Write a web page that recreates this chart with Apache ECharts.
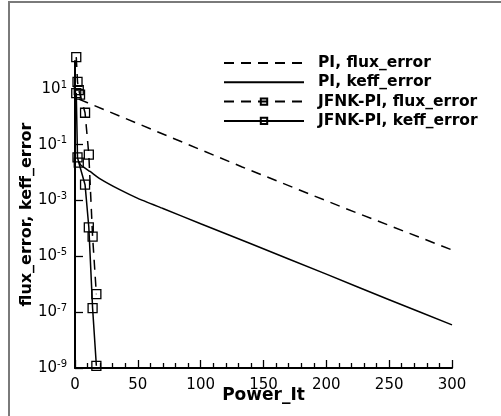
<!DOCTYPE html>
<html>
<head>
<meta charset="utf-8">
<script src="https://cdn.jsdelivr.net/npm/echarts@6/dist/echarts.min.js"></script>
<style>html,body{margin:0;padding:0;background:#fff;}#c{width:501px;height:416px;}</style>
</head>
<body>
<div id="c"></div>
<script>
// Data
const seriesNames = ['PI, flux_error', 'PI, keff_error', 'JFNK-PI, flux_error', 'JFNK-PI, keff_error'];
const piFluxIt = [3, 10, 133, 211, 300];
const piFluxErr = [4.3, 3.2, 1.6e-2, 6.2e-4, 1.7e-5];
const piKeffIt = [3, 5, 12, 20, 36, 50, 70, 100, 139, 200, 250, 300];
const piKeffErr = [2.5e-2, 1.8e-2, 1.1e-2, 6.0e-3, 2.4e-3, 1.2e-3, 5.2e-4, 1.48e-4, 2.95e-5, 2.3e-6, 2.8e-7, 3.5e-8];
const jfnkFluxIt = [1, 2, 3, 4, 8, 11, 14, 17];
const jfnkFluxErr = [138, 18, 9.1, 6.2, 1.4, 4.4e-2, 5.1e-5, 4.4e-7];
const jfnkKeffIt = [1, 2, 3, 8, 11, 14, 17];
const jfnkKeffErr = [7.1, 3.5e-2, 2.3e-2, 3.7e-3, 1.1e-4, 1.4e-7, 1.2e-9];
const xTicks = [0, 50, 100, 150, 200, 250, 300];

function pairs(xs, ys) { return xs.map((x, i) => [x, ys[i]]); }

const chart = echarts.init(document.getElementById('c'));
const dash = [10, 7];
const sym = {
  symbol: 'rect', symbolSize: 9,
  itemStyle: { color: 'rgba(255,255,255,0)', borderColor: '#000', borderWidth: 1.3 }
};
chart.setOption({
  animation: false,
  backgroundColor: '#fff',
  graphic: [{
    type: 'rect', silent: true,
    shape: { x: 9, y: 2, width: 700, height: 700 },
    style: { fill: 'none', stroke: '#7a7a7a', lineWidth: 2 }
  }],
  grid: { left: 75, right: 49, top: 61, bottom: 48 },
  legend: {
    orient: 'vertical', left: 223, top: 55, padding: 0,
    itemWidth: 80, itemHeight: 8, itemGap: 3.3,
    textStyle: { fontFamily: 'DejaVu Sans', fontWeight: 'bold', fontSize: 15.5, color: '#000', padding: [0, 0, 0, 9] },
    data: [
      { name: seriesNames[0], itemStyle: { opacity: 0 } },
      { name: seriesNames[1], itemStyle: { opacity: 0 } },
      { name: seriesNames[2] },
      { name: seriesNames[3] }
    ]
  },
  xAxis: {
    type: 'value', min: xTicks[0], max: xTicks[xTicks.length - 1], interval: 50,
    name: 'Power_It', nameLocation: 'middle', nameGap: 19, nameMoveOverlap: false,
    nameTextStyle: { fontFamily: 'DejaVu Sans', fontWeight: 'bold', fontSize: 17, color: '#000' },
    axisLine: { lineStyle: { color: '#000', width: 2 } },
    axisTick: { inside: true, length: 8, lineStyle: { color: '#000', width: 1.3 } },
    minorTick: { show: true, splitNumber: 5, length: 5, lineStyle: { color: '#000', width: 1.3 } },
    axisLabel: { fontFamily: 'DejaVu Sans', fontSize: 15, color: '#000', margin: 10 },
    splitLine: { show: false }
  },
  yAxis: {
    type: 'log', min: 1e-9, max: 100, interval: 2,
    name: 'flux_error, keff_error', nameLocation: 'middle', nameGap: 40, nameMoveOverlap: false,
    nameTextStyle: { fontFamily: 'DejaVu Sans', fontWeight: 'bold', fontSize: 16, color: '#000' },
    axisLine: { show: true, lineStyle: { color: '#000', width: 2 } },
    axisTick: { show: true, inside: true, length: 8, lineStyle: { color: '#000', width: 1.3 } },
    axisLabel: {
      margin: 8, showMaxLabel: false,
      formatter: function (v) {
        const e = Math.round(Math.log10(v));
        if (e === 2) return '';
        return '{b|10}{s|' + (e < 0 ? '-' + (-e) : e) + '}';
      },
      rich: {
        b: { fontFamily: 'DejaVu Sans', fontSize: 15, color: '#000', lineHeight: 18 },
        s: { fontFamily: 'DejaVu Sans', fontSize: 10, color: '#000', lineHeight: 10, verticalAlign: 'top' }
      }
    },
    splitLine: { show: false }
  },
  series: [
    { name: seriesNames[0], type: 'line', data: pairs(piFluxIt, piFluxErr), showSymbol: false, symbol: 'none',
      color: '#000', lineStyle: { color: '#000', width: 1.5, type: dash }, clip: false },
    { name: seriesNames[1], type: 'line', data: pairs(piKeffIt, piKeffErr), showSymbol: false, symbol: 'none', smooth: 0.15,
      color: '#000', lineStyle: { color: '#000', width: 1.5 }, clip: false },
    Object.assign({ name: seriesNames[2], type: 'line', data: pairs(jfnkFluxIt, jfnkFluxErr),
      lineStyle: { color: '#000', width: 1.5, type: dash }, clip: false }, sym),
    Object.assign({ name: seriesNames[3], type: 'line', data: pairs(jfnkKeffIt, jfnkKeffErr),
      lineStyle: { color: '#000', width: 1.5 }, clip: false }, sym)
  ]
});
</script>
</body>
</html>
